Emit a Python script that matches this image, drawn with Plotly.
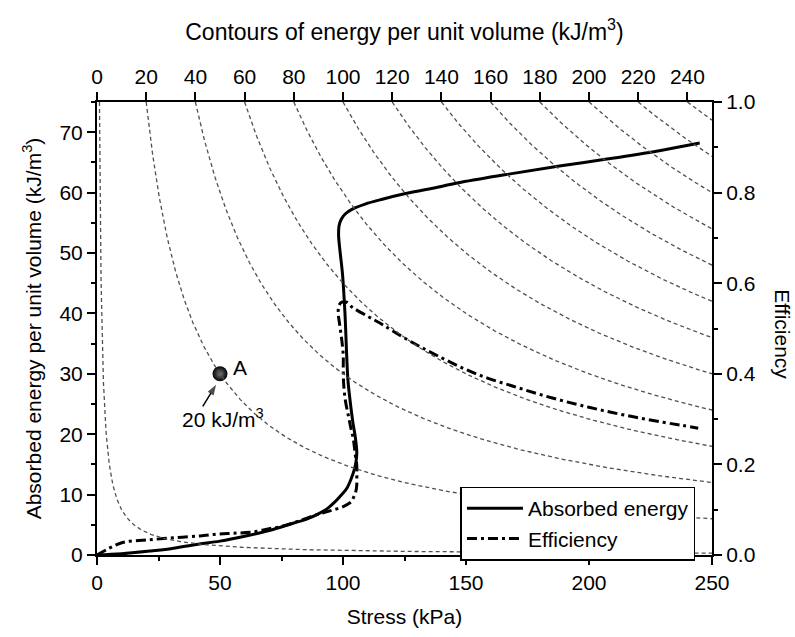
import numpy as np
import plotly.graph_objects as go

# ---------------- data ----------------
stress_energy = [0, 10, 21.5, 30, 40.5, 50, 60, 70, 80, 85, 90, 94, 97, 99.5, 101.5, 103.2,
                 104.5, 105.3, 105.6, 105, 104, 102.9, 102, 101.5, 100.8, 99.8, 98.6, 98.2,
                 98.4, 99.3, 101, 104, 109, 116, 125, 135, 148, 168, 188, 208, 228, 245]
absorbed_energy = [0, 0.2, 0.65, 1.05, 1.75, 2.3, 3.1, 4.05, 5.3, 5.9, 6.8, 7.8, 8.9, 10.0, 11.0, 12.5,
                   14.0, 15.5, 17.0, 19.5, 22.0, 25.5, 29.0, 33.0, 40.0, 46.5, 51.0, 53.0,
                   54.5, 55.6, 56.5, 57.3, 58.1, 58.9, 59.8, 60.6, 61.7, 63.1, 64.4, 65.6, 66.9, 68.2]

stress_eff = [0, 5, 10.7, 20, 31, 41.9, 48.7, 55, 62.2, 70, 75.7, 82, 89.3, 95, 100.1, 103,
              104.2, 105.2, 105.6, 105.6, 105.6, 104.9, 104.2, 103.2, 102.2, 101, 100.3,
              100.1, 100.1, 99.6, 98.8, 98.1, 98.3, 99.5, 101.5, 103.5, 104.9, 110,
              115, 120.4, 128.6, 138, 148.9, 159, 169.2, 179, 189.6, 200, 209.9, 220,
              230.2, 238, 244.4]
efficiency = [0, 0.015, 0.028, 0.033, 0.038, 0.042, 0.046, 0.048, 0.05, 0.058, 0.064, 0.075,
              0.089, 0.098, 0.107, 0.116, 0.126, 0.14, 0.155, 0.18, 0.198, 0.225, 0.256, 0.28,
              0.307, 0.34, 0.375, 0.41, 0.44, 0.47, 0.503, 0.532, 0.55, 0.558, 0.558, 0.548,
              0.543, 0.527, 0.512, 0.494, 0.468, 0.441, 0.412, 0.39, 0.3725, 0.356, 0.34,
              0.326, 0.314, 0.303, 0.293, 0.286, 0.28]

contour_levels = [1, 20, 40, 60, 80, 100, 120, 140, 160, 180, 200, 220, 240]  # kJ/m^3
top_ticks = list(range(0, 241, 20))
bottom_ticks = [0, 50, 100, 150, 200, 250]
left_ticks = [0, 10, 20, 30, 40, 50, 60, 70]
right_ticks = [0.0, 0.2, 0.4, 0.6, 0.8, 1.0]

point_A = (50, 30)
label_A = (58, 31)
label_20 = (51.4, 22.7)
arrow_x = [43, 48.4]
arrow_y = [24.6, 28.2]
Y_TOP = 75

FONT = "Liberation Sans, Arial, Helvetica, sans-serif"
FS = 21

fig = go.Figure()

# contours of energy (hyperbolae labelled on the top axis)
for c in contour_levels:
    xs = np.geomspace(c, 250, 400)
    ys = Y_TOP * c / xs
    fig.add_trace(go.Scatter(x=xs, y=ys, xaxis="x2", yaxis="y", mode="lines",
                             line=dict(color="#505050", width=1.3, dash="4px,3px"),
                             showlegend=False, hoverinfo="skip"))

fig.add_trace(go.Scatter(x=stress_energy, y=absorbed_energy, mode="lines",
                         name="Absorbed energy", line=dict(color="black", width=3),
                         line_shape="spline"))
fig.add_trace(go.Scatter(x=stress_eff, y=efficiency, mode="lines", yaxis="y2",
                         name="Efficiency",
                         line=dict(color="black", width=3, dash="10px,4px,3px,4px"),
                         line_shape="spline"))

fig.add_trace(go.Scatter(x=[point_A[0]], y=[point_A[1]], mode="markers",
                         marker=dict(size=15, color="black",
                                     gradient=dict(type="radial", color="#7a7a7a")),
                         showlegend=False, hoverinfo="skip"))

# arrow pointing to A
fig.add_trace(go.Scatter(x=arrow_x, y=arrow_y, mode="lines+markers",
                         line=dict(color="black", width=1.5),
                         marker=dict(symbol="arrow", size=[0, 11], color="black",
                                     angleref="previous", line=dict(width=0)),
                         showlegend=False, hoverinfo="skip"))

axis_common = dict(showline=True, linewidth=2, linecolor="black", showgrid=False,
                   zeroline=False, ticks="outside", ticklen=8, tickwidth=1.5,
                   tickcolor="black", tickfont=dict(family=FONT, size=FS, color="black"))

fig.update_layout(
    width=795, height=637,
    margin=dict(l=97, r=83, t=102, b=76),
    paper_bgcolor="white", plot_bgcolor="white",
    font=dict(family=FONT, size=FS, color="black"),
    xaxis=dict(range=[0, 250], tickvals=bottom_ticks,
               minor=dict(dtick=25, ticklen=4, ticks="outside", tickcolor="black", tickwidth=1.5),
               title=dict(text="Stress (kPa)", font=dict(size=FS), standoff=16),
               **axis_common),
    xaxis2=dict(range=[0, 250], tickvals=top_ticks, overlaying="x", side="top",
                anchor="y",
                title=dict(text="Contours of energy per unit volume (kJ/m<sup>3</sup>)",
                           font=dict(size=23), standoff=18),
                **axis_common),
    yaxis=dict(range=[0, 75], tickvals=left_ticks,
               minor=dict(dtick=5, ticklen=4, ticks="outside", tickcolor="black", tickwidth=1.5),
               title=dict(text="Absorbed energy per unit volume (kJ/m<sup>3</sup>)",
                          font=dict(size=FS), standoff=12),
               **axis_common),
    yaxis2=dict(range=[0, 1], tickvals=right_ticks, tickformat=".1f", overlaying="y",
                side="right", anchor="x",
                minor=dict(dtick=0.1, ticklen=4, ticks="outside", tickcolor="black", tickwidth=1.5),
                **axis_common),
    legend=dict(x=0.591, y=0.151, xanchor="left", yanchor="top",
                bgcolor="white", bordercolor="black", borderwidth=1.5,
                font=dict(family=FONT, size=FS), itemwidth=56),
    showlegend=True,
)

fig.add_annotation(x=1.1146, y=0.486, xref="paper", yref="paper", text="Efficiency",
                   textangle=90, showarrow=False, font=dict(size=FS),
                   xanchor="center", yanchor="middle")
fig.add_annotation(x=label_A[0], y=label_A[1], xref="x", yref="y", text="A", showarrow=False,
                   font=dict(size=FS), xanchor="center", yanchor="middle")
fig.add_annotation(x=label_20[0], y=label_20[1], xref="x", yref="y", text="20 kJ/m<sup>3</sup>",
                   showarrow=False, font=dict(size=FS), xanchor="center", yanchor="middle")

fig.write_html("out.html")
